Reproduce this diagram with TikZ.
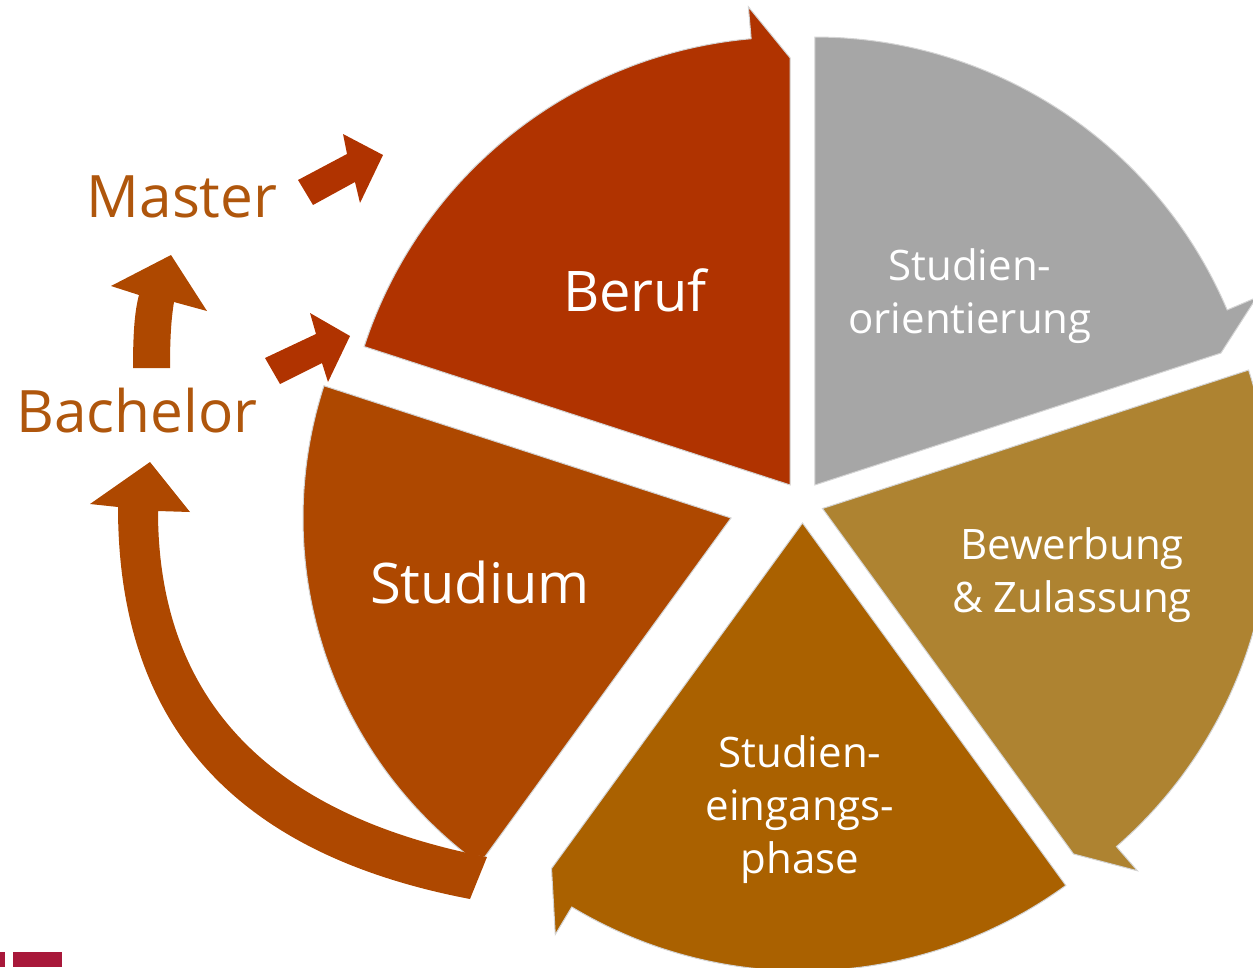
\documentclass[tikz,border=0pt]{standalone}
\usepackage{fontspec}
\setmainfont{Open Sans}
\definecolor{berufc}{HTML}{B03300}
\definecolor{grayc}{HTML}{A6A6A6}
\definecolor{bewc}{HTML}{AE8331}
\definecolor{eingc}{HTML}{AA6100}
\definecolor{studc}{HTML}{AE4800}
\definecolor{labelc}{HTML}{AF560C}
\definecolor{logoc}{HTML}{A8183A}
\definecolor{segline}{HTML}{D4D4D4}
\newcommand{\cycseg}[6]{% apex x, apex y, start angle, end angle, barb angle, colour
  \filldraw[fill=#6, draw=segline, line width=1pt, line join=miter]
    (#1,#2) -- plot[domain=#3:#5, samples=90] ({#1+448*cos(\x)},{#2-448*sin(\x)})
    -- ({#1+480*cos(#5)},{#2-480*sin(#5)})
    -- ({#1+427*cos(#4)},{#2-427*sin(#4)}) -- cycle;
}
\begin{document}
\begin{tikzpicture}[x=1pt,y=-1pt,
  bigtxt/.style={text=white, inner sep=0pt, font=\fontsize{56}{66}\selectfont},
  segtxt/.style={text=white, inner sep=0pt, align=center, font=\fontsize{42}{53}\selectfont},
  sidetxt/.style={text=labelc, inner sep=0pt, font=\fontsize{58.5}{70}\selectfont}]
\clip (0,0) rectangle (1253,967);
\useasboundingbox (0,0) rectangle (1253,967);
% segments
\cycseg{790.2}{485}{162}{90}{95}{berufc}
\cycseg{814.8}{485}{90}{18}{23}{grayc}
\cycseg{822.5}{508.5}{18}{-54}{-49}{bewc}
\cycseg{802.5}{523}{-54}{-126}{-121}{eingc}
\filldraw[fill=studc, draw=segline, line width=1pt]
  (731,518) -- plot[domain=162:232, samples=90] ({731+428*cos(\x)},{518-428*sin(\x)})
  -- ({731+419*cos(234)},{518-419*sin(234)}) -- cycle;
% curved arrow
\fill[studc] (470,899) .. controls (240,855) and (118,730) .. (118,507)
  -- (90,504) -- (150,462) -- (190,512) -- (158,511)
  .. controls (158,700) and (270,815) .. (487,857) -- cycle;
% Bachelor -> Master arrow
\fill[studc] (133,368) .. controls (133,330) and (135,310) .. (139,295)
  -- (111,286) -- (171,255) -- (207,311) -- (174,302)
  .. controls (171,320) and (170,340) .. (170,368) -- cycle;
% Bachelor -> Beruf arrow
\fill[berufc] (265,358) -- (316,334) -- (310,313) -- (350,336) -- (328,382) -- (322,363) -- (280,384) -- cycle;
% Master -> Beruf arrow
\fill[berufc] (298,180) -- (347,154) -- (343,134) -- (383,155) -- (360,203) -- (355,182) -- (313,205) -- cycle;
% logo fragment
\fill[logoc] (0,952) rectangle (5,967);
\fill[logoc] (13,952) rectangle (62,967);
% texts
\node[bigtxt] (beruf) at (635,290) {Beruf};
\node[bigtxt] (studium) at (480,582) {Studium};
\node[segtxt] (orient) at (970,296) {Studien-\\orientierung};
\node[segtxt] (bewerb) at (1072,575) {Bewerbung\\\& Zulassung};
\node[segtxt] (eingang) at (800,810) {Studien-\\eingangs-\\phase};
\node[sidetxt] (master) at (182,197) {Master};
\node[sidetxt] (bachelor) at (137,411) {Bachelor};
\end{tikzpicture}
\end{document}
